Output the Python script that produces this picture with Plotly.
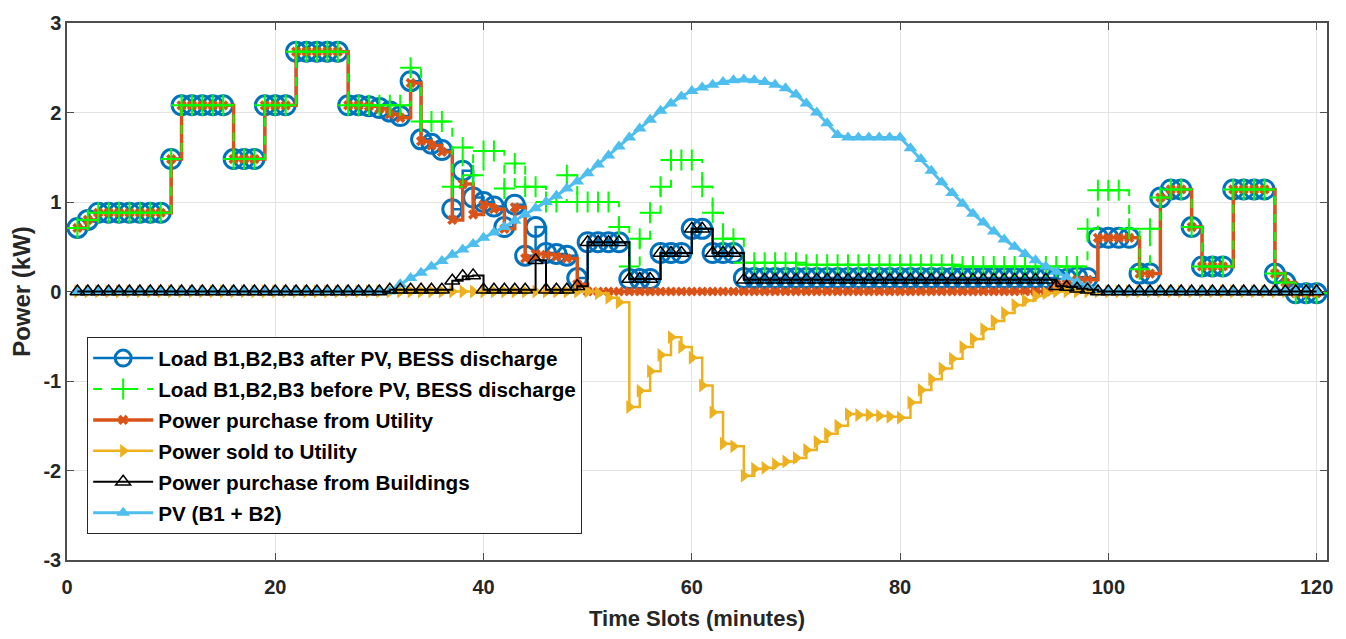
import plotly.graph_objects as go

minutes = list(range(1, 121))

load_after = [
    0.71, 0.80, 0.88, 0.88, 0.88, 0.88, 0.88, 0.88, 0.88, 1.48,
    2.08, 2.08, 2.08, 2.08, 2.08, 1.48, 1.48, 1.48, 2.08, 2.08,
    2.08, 2.68, 2.68, 2.68, 2.68, 2.68, 2.08, 2.08, 2.07, 2.05,
    2.01, 1.96, 2.35, 1.70, 1.65, 1.58, 0.92, 1.35, 1.05, 1.00,
    0.95, 0.72, 0.97, 0.40, 0.72, 0.43, 0.42, 0.40, 0.15, 0.55,
    0.55, 0.55, 0.55, 0.14, 0.14, 0.14, 0.43, 0.43, 0.43, 0.70,
    0.70, 0.43, 0.43, 0.43, 0.15, 0.15, 0.15, 0.15, 0.15, 0.15,
    0.15, 0.15, 0.15, 0.15, 0.15, 0.15, 0.15, 0.15, 0.15, 0.15,
    0.15, 0.15, 0.15, 0.15, 0.15, 0.15, 0.15, 0.15, 0.15, 0.15,
    0.15, 0.15, 0.15, 0.15, 0.14, 0.14, 0.16, 0.15, 0.60, 0.60,
    0.60, 0.60, 0.20, 0.20, 1.05, 1.14, 1.14, 0.72, 0.28, 0.28,
    0.28, 1.14, 1.14, 1.14, 1.14, 0.20, 0.10, -0.02, -0.02, -0.02,
]

load_before = [
    0.71, 0.80, 0.88, 0.88, 0.88, 0.88, 0.88, 0.88, 0.88, 1.48,
    2.08, 2.08, 2.08, 2.08, 2.08, 1.48, 1.48, 1.48, 2.08, 2.08,
    2.08, 2.68, 2.68, 2.68, 2.68, 2.68, 2.08, 2.08, 2.08, 2.08,
    2.08, 2.08, 2.50, 1.90, 1.90, 1.90, 1.17, 1.61, 1.30, 1.57,
    1.57, 1.15, 1.43, 1.17, 1.17, 1.00, 1.00, 1.30, 1.00, 1.00,
    1.00, 1.00, 0.72, 0.28, 0.59, 0.88, 1.17, 1.47, 1.47, 1.47,
    1.17, 0.88, 0.59, 0.59, 0.32, 0.32, 0.32, 0.32, 0.32, 0.32,
    0.30, 0.30, 0.30, 0.30, 0.30, 0.30, 0.30, 0.30, 0.30, 0.30,
    0.30, 0.30, 0.30, 0.30, 0.30, 0.28, 0.28, 0.28, 0.28, 0.28,
    0.28, 0.28, 0.28, 0.28, 0.28, 0.28, 0.28, 0.70, 1.13, 1.13,
    1.13, 0.70, 0.25, 0.70, 1.05, 1.14, 1.14, 0.72, 0.28, 0.28,
    0.28, 1.14, 1.14, 1.14, 1.14, 0.20, 0.10, -0.02, -0.02, -0.02,
]

purchase_utility = [
    0.71, 0.80, 0.88, 0.88, 0.88, 0.88, 0.88, 0.88, 0.88, 1.48,
    2.08, 2.08, 2.08, 2.08, 2.08, 1.48, 1.48, 1.48, 2.08, 2.08,
    2.08, 2.68, 2.68, 2.68, 2.68, 2.68, 2.08, 2.08, 2.07, 2.04,
    1.98, 1.94, 2.33, 1.68, 1.63, 1.56, 0.80, 1.20, 0.86, 0.97,
    0.92, 0.70, 0.94, 0.37, 0.42, 0.41, 0.39, 0.37, 0.08, 0.00,
    0.00, 0.00, 0.00, 0.00, 0.00, 0.00, 0.00, 0.00, 0.00, 0.00,
    0.00, 0.00, 0.00, 0.00, 0.00, 0.00, 0.00, 0.00, 0.00, 0.00,
    0.00, 0.00, 0.00, 0.00, 0.00, 0.00, 0.00, 0.00, 0.00, 0.00,
    0.00, 0.00, 0.00, 0.00, 0.00, 0.00, 0.00, 0.00, 0.00, 0.00,
    0.00, 0.00, 0.00, 0.00, 0.08, 0.09, 0.13, 0.13, 0.60, 0.60,
    0.60, 0.60, 0.20, 0.20, 1.05, 1.14, 1.14, 0.72, 0.28, 0.28,
    0.28, 1.14, 1.14, 1.14, 1.14, 0.20, 0.10, -0.02, -0.02, -0.02,
]

sold_utility = [
    0, 0, 0, 0, 0, 0, 0, 0, 0, 0,
    0, 0, 0, 0, 0, 0, 0, 0, 0, 0,
    0, 0, 0, 0, 0, 0, 0, 0, 0, 0,
    0, 0, 0, 0, 0, 0, 0, 0, 0, 0,
    0, 0, 0, 0, 0, 0, 0, 0, 0, 0.00,
    -0.02, -0.07, -0.12, -1.29, -1.11, -0.89, -0.71, -0.51, -0.62, -0.74,
    -1.05, -1.35, -1.70, -1.73, -2.06, -1.98, -1.97, -1.93, -1.90, -1.86,
    -1.77, -1.68, -1.59, -1.50, -1.37, -1.38, -1.38, -1.39, -1.40, -1.41,
    -1.24, -1.10, -0.98, -0.86, -0.75, -0.62, -0.53, -0.42, -0.33, -0.24,
    -0.15, -0.10, -0.05, -0.02, 0, 0, 0, 0, 0, 0,
    0, 0, 0, 0, 0, 0, 0, 0, 0, 0,
    0, 0, 0, 0, 0, 0, 0, 0, 0, 0,
]

purchase_buildings = [
    0, 0, 0, 0, 0, 0, 0, 0, 0, 0,
    0, 0, 0, 0, 0, 0, 0, 0, 0, 0,
    0, 0, 0, 0, 0, 0, 0, 0, 0, 0,
    0.02, 0.02, 0.02, 0.02, 0.02, 0.02, 0.12, 0.17, 0.18, 0.02,
    0.02, 0.02, 0.02, 0.02, 0.35, 0.02, 0.02, 0.02, 0.06, 0.55,
    0.55, 0.55, 0.55, 0.14, 0.14, 0.14, 0.43, 0.43, 0.43, 0.70,
    0.70, 0.43, 0.43, 0.43, 0.13, 0.13, 0.13, 0.13, 0.13, 0.13,
    0.13, 0.13, 0.13, 0.13, 0.13, 0.13, 0.13, 0.13, 0.13, 0.13,
    0.13, 0.13, 0.13, 0.13, 0.13, 0.13, 0.13, 0.13, 0.13, 0.13,
    0.13, 0.13, 0.13, 0.13, 0.06, 0.05, 0.03, 0.02, 0, 0,
    0, 0, 0, 0, 0, 0, 0, 0, 0, 0,
    0, 0, 0, 0, 0, 0, 0, 0, 0, 0,
]

pv = [
    0, 0, 0, 0, 0, 0, 0, 0, 0, 0,
    0, 0, 0, 0, 0, 0, 0, 0, 0, 0,
    0, 0, 0, 0, 0, 0, 0, 0, 0, 0,
    0.00, 0.08, 0.15, 0.21, 0.28, 0.34, 0.41, 0.47, 0.53, 0.60,
    0.66, 0.72, 0.79, 0.86, 0.93, 1.00, 1.07, 1.15, 1.23, 1.32,
    1.42, 1.52, 1.62, 1.72, 1.82, 1.92, 2.02, 2.10, 2.18, 2.24,
    2.28, 2.31, 2.34, 2.36, 2.37, 2.36, 2.34, 2.31, 2.27, 2.20,
    2.10, 2.00, 1.88, 1.75, 1.72, 1.72, 1.72, 1.72, 1.72, 1.72,
    1.60, 1.48, 1.35, 1.22, 1.10, 0.98, 0.87, 0.77, 0.67, 0.58,
    0.50, 0.42, 0.35, 0.28, 0.22, 0.16, 0.11, 0.06, 0.02, 0,
    0, 0, 0, 0, 0, 0, 0, 0, 0, 0,
    0, 0, 0, 0, 0, 0, 0, 0, 0, 0,
]

names = [
    "Load B1,B2,B3 after PV, BESS discharge",
    "Load B1,B2,B3 before PV, BESS discharge",
    "Power purchase from Utility",
    "Power sold to Utility",
    "Power purchase from Buildings",
    "PV (B1 + B2)",
]

x_ticks = [0, 20, 40, 60, 80, 100, 120]
y_ticks = [-3, -2, -1, 0, 1, 2, 3]
y_tick_text = ["-3", "-2", "-1", "0", "1", "2", "3"]

fig = go.Figure()

fig.add_trace(go.Scatter(
    x=minutes, y=load_after, name=names[0], legendrank=1, legendgroup="a",
    mode="lines+markers", line=dict(color="#0072BD", width=2.5, shape="hv"),
    marker=dict(symbol="circle-open", size=19, color="#0072BD", line=dict(width=3, color="#0072BD")),
))
fig.add_trace(go.Scatter(
    x=minutes, y=purchase_utility, name=names[2], legendrank=3, legendgroup="c",
    mode="lines+markers", line=dict(color="#D95319", width=3.5, shape="hv"),
    marker=dict(symbol="x", size=9, color="#D95319", line=dict(width=0)),
))
fig.add_trace(go.Scatter(
    x=minutes, y=load_before, name=names[1], legendrank=2, legendgroup="b",
    mode="lines+markers", line=dict(color="#00FF00", width=2, shape="hv", dash="dash"),
    marker=dict(symbol="cross-thin-open", size=15, color="#00FF00", line=dict(width=2, color="#00FF00")),
))
fig.add_trace(go.Scatter(
    x=minutes, y=sold_utility, name=names[3], legendrank=4, legendgroup="d",
    mode="lines+markers", line=dict(color="#EDB120", width=2.5, shape="hv"),
    marker=dict(symbol="triangle-right", size=12, color="#EDB120", line=dict(width=0)),
))
fig.add_trace(go.Scatter(
    x=minutes, y=pv, name=names[5], legendrank=6, legendgroup="f",
    mode="lines+markers", line=dict(color="#4DBEEE", width=3),
    marker=dict(symbol="triangle-up", size=12, color="#4DBEEE", line=dict(width=0)),
))
fig.add_trace(go.Scatter(
    x=minutes, y=purchase_buildings, name=names[4], legendrank=5, legendgroup="e",
    mode="lines+markers", line=dict(color="black", width=2, shape="hv"),
    marker=dict(symbol="triangle-up-open", size=13, color="black", line=dict(width=1.5, color="black")),
))

axis_common = dict(
    showgrid=True, gridcolor="#e3e3e3", gridwidth=1,
    showline=True, linecolor="#4d4d4d", linewidth=1.5, mirror="ticks",
    ticks="inside", ticklen=7, tickcolor="#4d4d4d",
    zeroline=False,
    tickfont=dict(family="Liberation Sans", size=20, color="#262626", weight="bold"),
)

fig.update_xaxes(
    range=[0, 121], tickvals=x_ticks, ticklabelstandoff=8,
    title=dict(text="<b>Time Slots (minutes)</b>", standoff=14,
               font=dict(family="Liberation Sans", size=22, color="#262626")),
    **axis_common,
)
fig.update_yaxes(
    range=[-3, 3], tickvals=y_ticks, ticktext=y_tick_text,
    title=dict(text="<b>Power (kW)</b>", standoff=6,
               font=dict(family="Liberation Sans", size=24, color="#262626")),
    **axis_common,
)

fig.update_layout(
    width=1346, height=639,
    margin=dict(l=67, r=19, t=18, b=74),
    plot_bgcolor="white", paper_bgcolor="white",
    legend=dict(
        x=0.016, y=0.415, xanchor="left", yanchor="top",
        bgcolor="white", bordercolor="#262626", borderwidth=1,
        font=dict(family="Liberation Sans", size=20.7, color="black", weight="bold"),
        tracegroupgap=1, itemwidth=60,
    ),
    showlegend=True,
)

fig.write_html("out.html")
